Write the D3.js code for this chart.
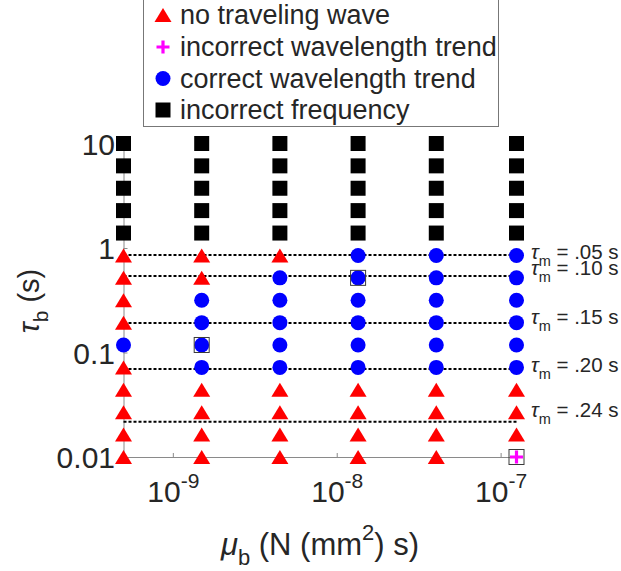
<!DOCTYPE html>
<html><head><meta charset="utf-8">
<script src="https://cdn.jsdelivr.net/npm/d3@7"></script>
<style>
body{margin:0;background:#fff}
text{font-family:"Liberation Sans",Arial,Helvetica,sans-serif;fill:#262626}
</style>
</head><body>
<svg id="c" width="621" height="571"></svg>
<script>
// ---- data ----
const muB = [5e-10, 1.5e-9, 4.5e-9, 1.35e-8, 4.05e-8, 1.25e-7];
const tauB = [0.01, 0.0164, 0.0268, 0.0439, 0.072, 0.118, 0.193, 0.316, 0.518, 0.848, 1.39, 2.28, 3.73, 6.11, 10];
// outcome per column, rows from tauB[0] upward: T=no traveling wave, P=incorrect wavelength trend, C=correct wavelength trend, S=incorrect frequency
const outcome = [
  "TTTTTCTTTTSSSSS",
  "TTTTCCCCTTSSSSS",
  "TTTTCCCCCTSSSSS",
  "TTTTCCCCCCSSSSS",
  "TTTTCCCCCCSSSSS",
  "PTTTCCCCCCSSSSS"
];
const boxedMu = [1.5e-9, 1.35e-8, 1.25e-7];
const boxedTau = [0.118, 0.518, 0.01];
const tauM = [".05", ".10", ".15", ".20", ".24"];
const tauMLineTauB = [0.857, 0.540, 0.192, 0.0697, 0.0217];
const tauMLabelTauB = [0.785, 0.552, 0.1875, 0.0652, 0.0242];
const legendCodes = ["T", "P", "C", "S"];
const legendLabels = ["no traveling wave", "incorrect wavelength trend", "correct wavelength trend", "incorrect frequency"];
const yTicks = [0.01, 0.1, 1, 10];
const yTickLabels = ["0.01", "0.1", "1", "10"];
const xTicks = [1e-9, 1e-8, 1e-7];
const xTickExp = ["-9", "-8", "-7"];

// ---- setup ----
const svg = d3.select("#c");
const x = d3.scaleLog().domain([5e-10, 1.25e-7]).range([123.5, 516.5]);
const y = d3.scaleLog().domain([0.01, 10]).range([457, 143.5]);
const axisColor = "#8a8a8a";

function markerPath(code) {
  if (code === "T") return "M0,-7 L8.5,7 L-8.5,7 Z";
  if (code === "S") return "M-7.5,-7.5 H7.5 V7.5 H-7.5 Z";
  if (code === "C") return d3.symbol(d3.symbolCircle, Math.PI * 7.5 * 7.5)();
  return "";
}
const colorOf = {T: "#ff0000", P: "#ff00ff", C: "#0000ff", S: "#000000"};

function drawMarker(g, code) {
  if (code === "P") {
    g.append("path").attr("d", "M-6.5,0 H6.5 M0,-6.5 V6.5")
      .attr("stroke", colorOf.P).attr("stroke-width", 3.2).attr("fill", "none");
  } else {
    g.append("path").attr("d", markerPath(code)).attr("fill", colorOf[code]);
  }
}

// ---- axes ----
const yAxis = d3.axisLeft(y).tickValues(yTicks).tickSizeInner(-4).tickSizeOuter(0).tickPadding(8.5)
  .tickFormat((d, i) => yTickLabels[i]);
const gy = svg.append("g").attr("transform", "translate(123.5,0)").call(yAxis);
gy.selectAll("path,line").attr("stroke", axisColor);
gy.selectAll("text").attr("font-size", 30).attr("font-family", '"Liberation Sans",Arial,sans-serif')
  .attr("fill", "#262626").attr("dy", "0.36em");

const xAxis = d3.axisBottom(x).tickValues(xTicks).tickSizeInner(-4).tickSizeOuter(0).tickFormat("");
const gx = svg.append("g").attr("transform", "translate(0,457)").call(xAxis);
gx.selectAll("path,line").attr("stroke", axisColor);
gx.selectAll(".tick").each(function(d, i) {
  const t = d3.select(this).append("text").attr("text-anchor", "middle").attr("y", 45)
    .attr("font-size", 30).attr("fill", "#262626");
  t.append("tspan").text("10");
  t.append("tspan").attr("font-size", 21).attr("dy", -14).text(xTickExp[i]);
});

// ---- dotted tau_m lines ----
svg.append("g").selectAll("line").data(tauMLineTauB).join("line")
  .attr("x1", x(muB[0])).attr("x2", x(muB[muB.length - 1]))
  .attr("y1", d => y(d)).attr("y2", d => y(d))
  .attr("stroke", "#000").attr("stroke-width", 2).attr("stroke-dasharray", "3,2");

// ---- markers ----
const pts = [];
outcome.forEach((col, ci) => {
  for (let ri = 0; ri < col.length; ri++) pts.push({mu: muB[ci], tau: tauB[ri], code: col[ri]});
});
const gm = svg.append("g");
pts.forEach(p => {
  const g = gm.append("g").attr("transform", `translate(${x(p.mu)},${y(p.tau)})`);
  drawMarker(g, p.code);
});
boxedMu.forEach((m, i) => {
  gm.append("rect").attr("x", x(m) - 7.5).attr("y", y(boxedTau[i]) - 7.5)
    .attr("width", 15).attr("height", 15).attr("fill", "none")
    .attr("stroke", "#3a3a3a").attr("stroke-width", 1);
});

// ---- tau_m labels ----
tauM.forEach((lab, i) => {
  const t = svg.append("text").attr("x", 531).attr("y", y(tauMLabelTauB[i]))
    .attr("font-size", 20.5).attr("fill", "#000");
  t.append("tspan").attr("font-style", "italic").text("τ");
  t.append("tspan").attr("font-size", 14.5).attr("dy", 7).text("m");
  t.append("tspan").attr("dy", -7).text(" = " + lab + " s");
});

// ---- axis labels ----
const xl = svg.append("text").attr("x", 320).attr("y", 555).attr("text-anchor", "middle")
  .attr("font-size", 31).attr("fill", "#262626");
xl.append("tspan").attr("font-style", "italic").text("μ");
xl.append("tspan").attr("font-size", 22).attr("dy", 10).text("b");
xl.append("tspan").attr("dy", -10).text(" (N (mm");
xl.append("tspan").attr("font-size", 22).attr("dy", -15).text("2");
xl.append("tspan").attr("dy", 15).text(") s)");

const yl = svg.append("text").attr("transform", "translate(39,301) rotate(-90)")
  .attr("text-anchor", "middle").attr("font-size", 29).attr("fill", "#262626");
yl.append("tspan").attr("font-style", "italic").text("τ");
yl.append("tspan").attr("font-size", 21).attr("dy", 9).text("b");
yl.append("tspan").attr("dy", -9).text(" (s)");

// ---- legend ----
const lg = svg.append("g");
lg.append("rect").attr("x", 143.5).attr("y", -1.5).attr("width", 355).attr("height", 128)
  .attr("fill", "#fff").attr("stroke", "#777").attr("stroke-width", 1);
const legY = [15, 47, 78.5, 110];
legendCodes.forEach((c, i) => {
  const g = lg.append("g").attr("transform", `translate(163,${legY[i]})`);
  drawMarker(g, c);
  lg.append("text").attr("x", 180).attr("y", legY[i]).attr("dy", "0.35em")
    .attr("font-size", 27).attr("fill", "#000").text(legendLabels[i]);
});
</script>
</body></html>
